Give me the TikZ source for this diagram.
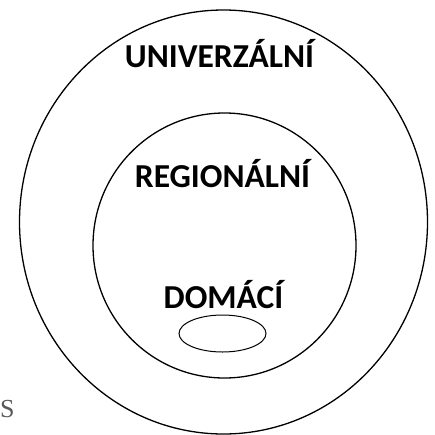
\documentclass[tikz,border=0pt]{standalone}
\usepackage{fontspec}
\setmainfont{Carlito}
\newfontfamily\serifgrey{Liberation Serif}
\begin{document}
\begin{tikzpicture}[x=1pt,y=-1pt,
  ring/.style={draw=black,line width=1.3pt},
  label/.style={anchor=base,inner sep=0pt,font=\fontsize{33.5}{33.5}\selectfont\bfseries}]
\useasboundingbox (0,0) rectangle (435,434);
\begin{scope}
\clip (0,0) rectangle (435,434);
\draw[ring] (223.5,222) ellipse [x radius=204, y radius=212];
\end{scope}
\draw[ring] (224.5,245.5) ellipse [x radius=131.5, y radius=132.5];
\draw[draw=black,line width=1pt] (222.5,333.5) ellipse [x radius=43.5, y radius=18.5];
\node[label] (u) at (219.5,67) {UNIVERZÁLNÍ};
\node[label] (r) at (222.5,187) {REGIONÁLNÍ};
\node[label] (d) at (223.5,308) {DOMÁCÍ};
\node[anchor=base west,inner sep=0pt,text=black!65,font=\serifgrey\fontsize{26}{26}\selectfont] (s) at (0,417) {S};
\end{tikzpicture}
\end{document}
